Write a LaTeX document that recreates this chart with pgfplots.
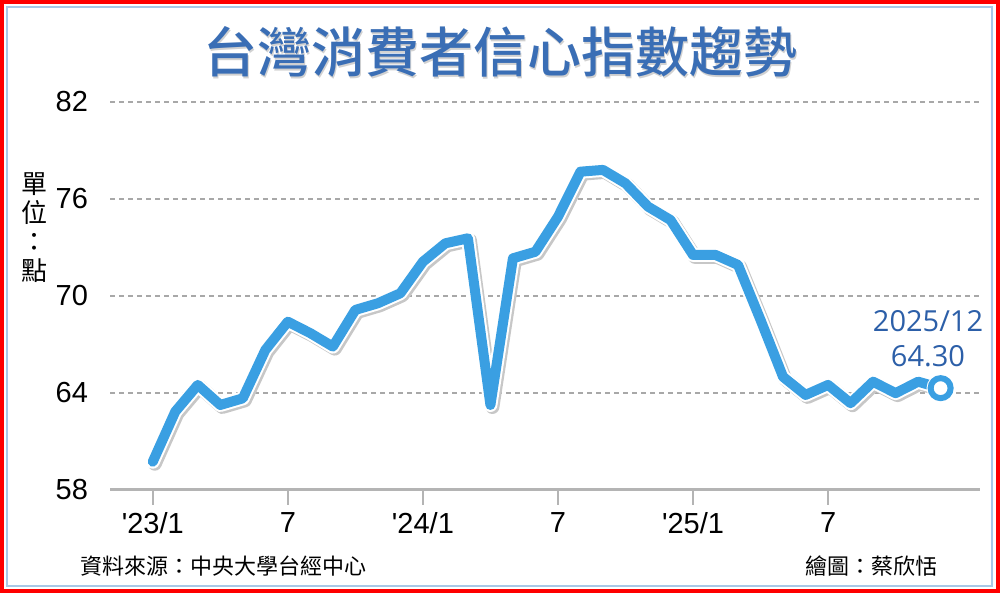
\documentclass[border=0pt]{standalone}
\usepackage{pgfplots}
\usepackage{pgfplotstable}
\pgfplotsset{compat=1.18}
\usepackage{fontspec}
\setmainfont{Liberation Sans}
\newfontfamily\cjk{Noto Sans CJK TC}
\newfontfamily\cjkmed{Noto Sans CJK TC Medium}
\newfontfamily\annot{Open Sans}
\definecolor{LineBlue}{HTML}{3A9FE2}
\definecolor{TitleBlue}{HTML}{3A6EB5}
\definecolor{NoteBlue}{HTML}{2C5FA8}
\definecolor{GridGray}{HTML}{A8A8A8}
\definecolor{AxisGray}{HTML}{B4B4B4}
\definecolor{FrameBlue}{HTML}{A9C8E6}

% month index (0 = 2023/1), index value
\pgfplotstableread{
m v
0 59.75
1 62.85
2 64.50
3 63.26
4 63.67
5 66.66
6 68.41
7 67.70
8 66.87
9 69.14
10 69.55
11 70.17
12 72.12
13 73.26
14 73.57
15 63.26
16 72.33
17 72.74
18 74.90
19 77.69
20 77.80
21 76.97
22 75.53
23 74.70
24 72.54
25 72.54
26 71.92
27 68.52
28 65.00
29 63.88
30 64.50
31 63.37
32 64.70
33 63.99
34 64.70
35 64.30
}\cci

\begin{document}
\begin{tikzpicture}
\begin{axis}[
  scale only axis, width=435pt, height=194pt,
  xmin=-1.9, xmax=36.75, ymin=58, ymax=82,
  axis x line=bottom, axis y line=left,
  x axis line style={-, draw=AxisGray, line width=1.5pt},
  y axis line style={draw=none},
  xtick={0,6,12,18,24,30},
  xticklabels={\textquotesingle23/1,7,\textquotesingle24/1,7,\textquotesingle25/1,7},
  ytick={58,64,70,76,82},
  /pgf/number format/assume math mode=true,
  tick label style={font=\fontsize{14.5}{17}\selectfont},
  x tick style={draw=AxisGray, line width=1pt},
  major tick length=7.5pt, tick align=outside,
  y tick style={draw=none},
  ymajorgrids,
  grid style={GridGray, dash pattern=on 2.5pt off 2pt, line width=0.6pt},
  clip=false,
]
\addplot[draw=black!22, line width=7pt, line join=round, line cap=round, xshift=1pt, yshift=-1pt] table {\cci};
\addplot[draw=white, line width=7pt, line join=round, line cap=round] table {\cci};
\addplot[draw=LineBlue, line width=5pt, line join=round, line cap=round] table {\cci};
\addplot[only marks, mark=*, mark size=5pt, mark options={fill=white, draw=white, line width=4pt}] coordinates {(35,64.30)};
\addplot[only marks, mark=*, mark size=5pt, mark options={fill=white, draw=LineBlue, line width=3pt}] coordinates {(35,64.30)};
\end{axis}

\begin{scope}[x=0.5pt, y=-0.5pt, shift={(-55pt,245pt)}]
  \draw[draw=red, line width=2pt] (2,2) rectangle (998,591);
  \draw[draw=FrameBlue, line width=1pt] (7,7) rectangle (992,586);
  \node[font=\cjkmed\fontsize{27}{30}\selectfont, text=black!18] at (501.5,53.5) {台灣消費者信心指數趨勢};
  \node[font=\cjkmed\fontsize{27}{30}\selectfont, text=TitleBlue] at (500,52) {台灣消費者信心指數趨勢};
  \node[font=\cjk\fontsize{13}{14.5}\selectfont, align=center] at (34,228) {單\\位\\：\\點};
  \node[anchor=west, font=\cjk\fontsize{11}{13}\selectfont] at (73,566) {資料來源：中央大學台經中心};
  \node[anchor=east, font=\cjk\fontsize{11}{13}\selectfont] at (945,566) {繪圖：蔡欣恬};
  \node[font=\annot\fontsize{14.5}{17}\selectfont, text=NoteBlue] at (928,321) {2025/12};
  \node[font=\annot\fontsize{14.5}{17}\selectfont, text=NoteBlue] at (928,356) {64.30};
  \pgfresetboundingbox
  \useasboundingbox (0,0) rectangle (1000,593);
\end{scope}
\end{tikzpicture}
\end{document}
